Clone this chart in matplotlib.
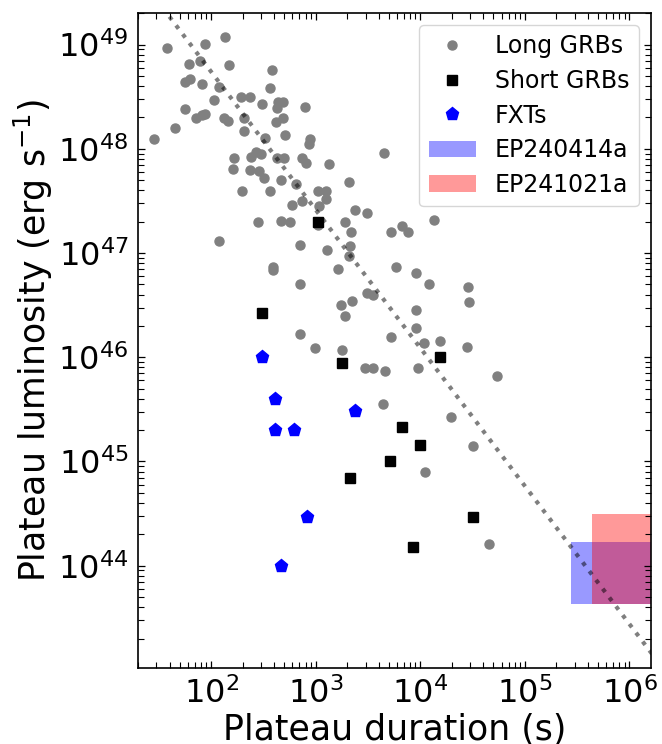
import matplotlib
matplotlib.use("Agg")
import matplotlib.pyplot as plt
from matplotlib.patches import Rectangle
import numpy as np

# log10 of plateau duration (s) and plateau luminosity (erg/s)
long_logT = np.array([
    2.13, 1.58, 1.94, 1.79, 1.89, 2.17, 2.58, 1.75, 1.80, 1.91,
    2.08, 2.56, 2.03, 2.29, 2.37, 2.49, 2.64, 2.69, 2.63, 2.90,
    1.75, 1.86, 1.91, 1.94, 2.12, 2.16, 2.31, 2.69, 2.62, 1.65,
    1.45, 2.31, 2.52, 2.71, 2.95, 2.94, 3.65, 2.22, 2.38, 2.43,
    2.48, 2.63, 2.70, 2.87, 2.91, 3.13, 2.21, 2.37, 2.46, 2.51,
    2.67, 2.81, 3.32, 2.30, 2.56, 3.02, 3.10, 2.87, 2.77, 3.10,
    3.03, 3.38, 3.49, 2.45, 2.67, 2.75, 3.02, 3.28, 3.34, 3.72,
    2.08, 3.83, 4.13, 3.88, 2.85, 3.11, 3.33, 3.32, 2.59, 2.59,
    3.21, 3.77, 2.85, 3.49, 3.55, 3.35, 3.24, 3.28, 2.85, 2.99,
    3.25, 3.72, 3.47, 3.55, 3.66, 3.64, 3.96, 4.08, 4.46, 4.47,
    3.96, 3.96, 4.04, 4.19, 4.45, 3.98, 4.73, 4.29, 4.50, 4.05, 4.66,
])
long_logL = np.array([
    49.07, 48.97, 49.01, 48.81, 48.84, 48.80, 48.76, 48.64, 48.67, 48.62,
    48.59, 48.58, 48.47, 48.50, 48.50, 48.43, 48.45, 48.45, 48.39, 48.40,
    48.38, 48.30, 48.32, 48.33, 48.30, 48.27, 48.30, 48.30, 48.26, 48.20,
    48.09, 48.17, 48.10, 48.13, 48.09, 48.05, 47.96, 47.91, 47.92, 47.97,
    47.95, 47.91, 47.91, 47.91, 47.86, 47.85, 47.81, 47.80, 47.79, 47.72,
    47.70, 47.66, 47.68, 47.60, 47.60, 47.60, 47.60, 47.50, 47.46, 47.52,
    47.45, 47.41, 47.38, 47.30, 47.31, 47.30, 47.27, 47.30, 47.20, 47.20,
    47.12, 47.26, 47.32, 47.20, 47.08, 47.03, 47.07, 46.97, 46.87, 46.84,
    46.85, 46.87, 46.70, 46.62, 46.60, 46.54, 46.50, 46.40, 46.22, 46.09,
    46.07, 46.19, 45.90, 45.90, 45.87, 45.55, 46.81, 46.70, 46.67, 46.53,
    46.45, 46.28, 46.14, 46.16, 46.10, 45.90, 45.82, 45.43, 45.15, 44.90, 44.21,
])

short_logT = np.array([3.02, 2.49, 3.25, 4.19, 3.83, 4.00, 3.71, 3.33, 4.50, 3.93])
short_logL = np.array([47.30, 46.42, 45.94, 46.00, 45.33, 45.16, 45.00, 44.84, 44.47, 44.18])

fxt_logT = np.array([2.49, 2.61, 3.38, 2.61, 2.79, 2.92, 2.67])
fxt_logL = np.array([46.00, 45.60, 45.48, 45.30, 45.30, 44.47, 44.00])

# EP events: duration range (s), luminosity range (erg/s)
ep240414a_T = (2.76e5, 1e7)
ep240414a_L = (4.3e43, 1.7e44)
ep241021a_T = (4.4e5, 1e7)
ep241021a_L = (4.3e43, 3.1e44)

# dotted correlation line: log L = fit_norm + fit_slope * log T
fit_norm = 51.39
fit_slope = -1.325


def main():
    fig = plt.figure(figsize=(6.62, 7.44), dpi=100)
    ax = fig.add_axes([0.2085, 0.1026, 0.7745, 0.8796])

    ax.plot(10**long_logT, 10**long_logL, "o", color="gray", ms=6.5, ls="none", label="Long GRBs")
    ax.plot(10**short_logT, 10**short_logL, "s", color="black", ms=6.5, ls="none", label="Short GRBs")
    ax.plot(10**fxt_logT, 10**fxt_logL, "p", color="blue", ms=9.5, ls="none", label="FXTs")

    ax.add_patch(Rectangle((ep240414a_T[0], ep240414a_L[0]),
                           ep240414a_T[1] - ep240414a_T[0], ep240414a_L[1] - ep240414a_L[0],
                           facecolor="blue", alpha=0.4, lw=0, label="EP240414a"))
    ax.add_patch(Rectangle((ep241021a_T[0], ep241021a_L[0]),
                           ep241021a_T[1] - ep241021a_T[0], ep241021a_L[1] - ep241021a_L[0],
                           facecolor="red", alpha=0.4, lw=0, label="EP241021a"))

    t_fit = np.array([10.0, 1e7])
    ax.plot(t_fit, 10**(fit_norm + fit_slope * np.log10(t_fit)), ":", color="black", alpha=0.5, lw=3)

    ax.set_xscale("log")
    ax.set_yscale("log")
    ax.set_xlim(20, 1.6e6)
    ax.set_ylim(1.05e43, 2e49)

    ax.tick_params(which="both", direction="in", top=True, right=True, labelsize=23, pad=7)
    ax.tick_params(which="major", length=5, width=0.9)
    ax.tick_params(which="minor", length=4, width=0.8)
    for sp in ax.spines.values():
        sp.set_linewidth(1.2)

    ax.set_xlabel("Plateau duration (s)", fontsize=25, labelpad=2)
    ax.set_ylabel("Plateau luminosity (erg s$^{-1}$)", fontsize=25, labelpad=2)
    ax.legend(loc="upper right", fontsize=17, labelspacing=0.45)

    fig.savefig("out.png", dpi=100)
    plt.close(fig)


if __name__ == "__main__":
    main()
